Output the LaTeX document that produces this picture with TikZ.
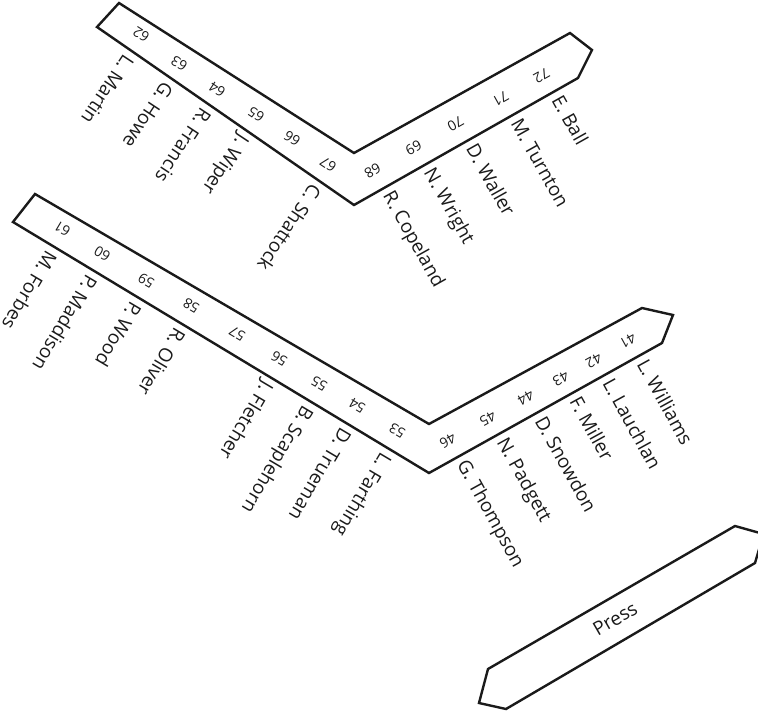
\documentclass[tikz,border=0pt]{standalone}
\usepackage{fontspec}
\setmainfont{Open Sans}
\usetikzlibrary{calc}
\definecolor{ink}{HTML}{1A1A1A}
\begin{document}
\begin{tikzpicture}[x=1pt,y=-1pt,
  band/.style={draw=ink, line width=2.4pt, line join=miter},
  seatno/.style={font=\fontsize{14}{14}\selectfont, text=ink, inner sep=0pt, text height=0.72em, text depth=0pt},
  person/.style={font=\fontsize{19}{19}\selectfont, text=ink, inner sep=0pt, text height=0.72em, text depth=0pt, anchor=west},
  presslabel/.style={font=\fontsize{19}{19}\selectfont, text=ink, inner sep=0pt}
]
\useasboundingbox (0,0) rectangle (758,713);
\clip (0,0) rectangle (758,713);

% bands
\draw[band] (97,27) -- (119,3) -- (354,153) -- (570,33) -- (592,50) -- (578,78) -- (354,205) -- cycle;
\draw[band] (13,222) -- (35,194) -- (429,424) -- (642,308) -- (673,315) -- (662,343) -- (429,473) -- cycle;
\draw[band] (479,703) -- (488,669) -- (735,526) -- (763.5,534) -- (755,563) -- (506,709) -- cycle;

% edge references
\coordinate (ULa) at (97,27);
\coordinate (UV) at (354,205);
\coordinate (URb) at (578,78);
\coordinate (LLa) at (13,222);
\coordinate (LV) at (429,473);
\coordinate (LRb) at (662,343);

% upper band seat numbers
\node[seatno, rotate=146.5] (s62) at (142,33) {62};
\node[seatno, rotate=146.5] (s63) at (180,62) {63};
\node[seatno, rotate=146.5] (s64) at (218,88) {64};
\node[seatno, rotate=146.5] (s65) at (257,113) {65};
\node[seatno, rotate=146.5] (s66) at (293,137) {66};
\node[seatno, rotate=146.5] (s67) at (329,163) {67};
\node[seatno, rotate=209.3] (s68) at (372,170) {68};
\node[seatno, rotate=209.3] (s69) at (413,147) {69};
\node[seatno, rotate=209.3] (s70) at (455,123) {70};
\node[seatno, rotate=209.3] (s71) at (500,98) {71};
\node[seatno, rotate=209.3] (s72) at (541,75) {72};

% lower band seat numbers
\node[seatno, rotate=149.3] (s61) at (63,228) {61};
\node[seatno, rotate=149.3] (s60) at (103,253) {60};
\node[seatno, rotate=149.3] (s59) at (147,280) {59};
\node[seatno, rotate=149.3] (s58) at (192,305) {58};
\node[seatno, rotate=149.3] (s57) at (238,333) {57};
\node[seatno, rotate=149.3] (s56) at (280,358) {56};
\node[seatno, rotate=149.3] (s55) at (320,383) {55};
\node[seatno, rotate=149.3] (s54) at (358,405) {54};
\node[seatno, rotate=149.3] (s53) at (398,430) {53};
\node[seatno, rotate=208.9] (s46) at (447,440) {46};
\node[seatno, rotate=208.9] (s45) at (487,418) {45};
\node[seatno, rotate=208.9] (s44) at (525,397) {44};
\node[seatno, rotate=208.9] (s43) at (560,378) {43};
\node[seatno, rotate=208.9] (s42) at (593,360) {42};
\node[seatno, rotate=208.9] (s41) at (627,340) {41};

% projections onto lower edges
\foreach \n in {62,63,64,65,67} {\coordinate (p\n) at ($(ULa)!(s\n)!(UV)$);}
\foreach \n in {68,69,70,71,72} {\coordinate (p\n) at ($(UV)!(s\n)!(URb)$);}
\foreach \n in {61,60,59,58,56,55,54,53} {\coordinate (p\n) at ($(LLa)!(s\n)!(LV)$);}
\foreach \n in {46,45,44,43,42,41} {\coordinate (p\n) at ($(LV)!(s\n)!(LRb)$);}

% upper band names
\node[person, rotate=236.5] (m62) at ($(p62)!6pt!-90:(UV)$) {L. Martin};
\node[person, rotate=236.5] (m63) at ($(p63)!6pt!-90:(UV)$) {G. Howe};
\node[person, rotate=236.5] (m64) at ($(p64)!6pt!-90:(UV)$) {R. Francis};
\node[person, rotate=236.5] (m65) at ($(p65)!6pt!-90:(UV)$) {J. Wiper};
\node[person, rotate=236.5] (m67) at ($(p67)!6pt!-90:(UV)$) {C. Shattock};
\node[person, rotate=-60.7] (m68) at ($(p68)!6pt!-90:(URb)$) {R. Copeland};
\node[person, rotate=-60.7] (m69) at ($(p69)!6pt!-90:(URb)$) {N. Wright};
\node[person, rotate=-60.7] (m70) at ($(p70)!6pt!-90:(URb)$) {D. Waller};
\node[person, rotate=-60.7] (m71) at ($(p71)!6pt!-90:(URb)$) {M. Turnton};
\node[person, rotate=-60.7] (m72) at ($(p72)!6pt!-90:(URb)$) {E. Ball};

% lower band names
\node[person, rotate=239.3] (m61) at ($(p61)!6pt!-90:(LV)$) {M. Forbes};
\node[person, rotate=239.3] (m60) at ($(p60)!6pt!-90:(LV)$) {P. Maddison};
\node[person, rotate=239.3] (m59) at ($(p59)!6pt!-90:(LV)$) {P. Wood};
\node[person, rotate=239.3] (m58) at ($(p58)!6pt!-90:(LV)$) {R. Oliver};
\node[person, rotate=239.3] (m56) at ($(p56)!6pt!-90:(LV)$) {J. Fletcher};
\node[person, rotate=239.3] (m55) at ($(p55)!6pt!-90:(LV)$) {B. Scaplehorn};
\node[person, rotate=239.3] (m54) at ($(p54)!6pt!-90:(LV)$) {D. Trueman};
\node[person, rotate=239.3] (m53) at ($(p53)!6pt!-90:(LV)$) {L. Farthing};
\node[person, rotate=-61.1] (m46) at ($(p46)!6pt!-90:(LRb)$) {G. Thompson};
\node[person, rotate=-61.1] (m45) at ($(p45)!6pt!-90:(LRb)$) {N. Padgett};
\node[person, rotate=-61.1] (m44) at ($(p44)!6pt!-90:(LRb)$) {D. Snowdon};
\node[person, rotate=-61.1] (m43) at ($(p43)!6pt!-90:(LRb)$) {F. Miller};
\node[person, rotate=-61.1] (m42) at ($(p42)!6pt!-90:(LRb)$) {L. Lauchlan};
\node[person, rotate=-61.1] (m41) at ($(p41)!6pt!-90:(LRb)$) {L. Williams};

% press
\node[presslabel, rotate=30.1] (press) at (615,619) {Press};
\end{tikzpicture}
\end{document}
